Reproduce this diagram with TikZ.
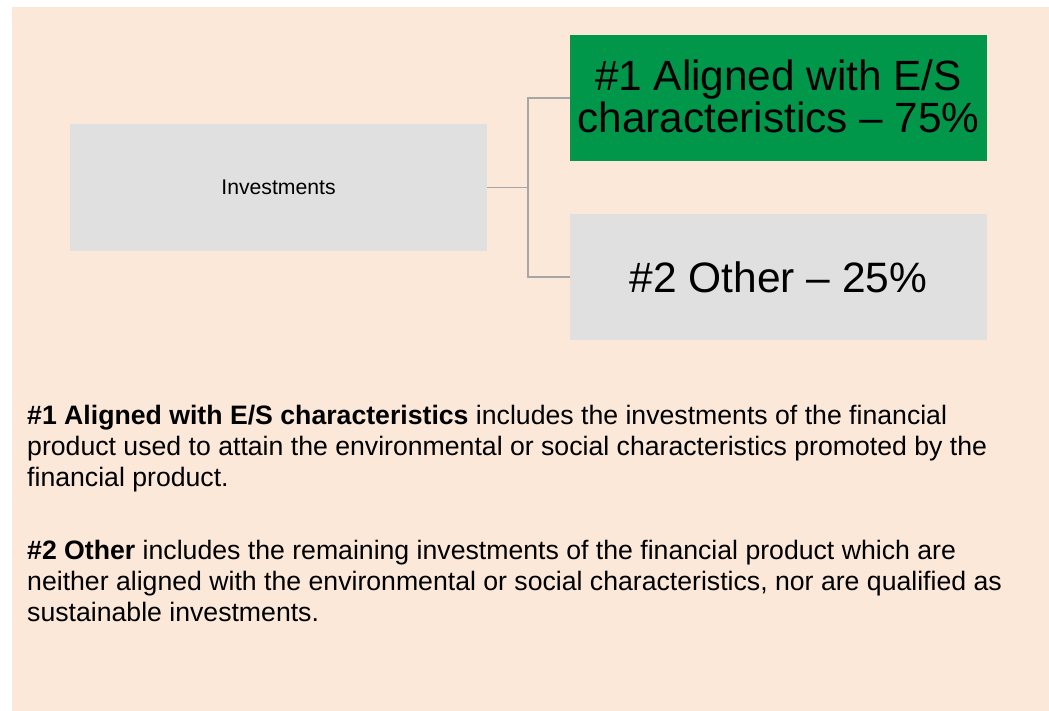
\documentclass[tikz,border=0pt]{standalone}
\usepackage{fontspec}
\setmainfont{Liberation Sans}
\definecolor{peach}{HTML}{FBE8D8}
\definecolor{boxgray}{HTML}{E0E0E0}
\definecolor{esgreen}{HTML}{00974A}
\definecolor{linegray}{HTML}{A6A6A6}
\begin{document}
\begin{tikzpicture}[x=1pt,y=-1pt,
  box/.style={minimum width=417pt, minimum height=126pt, inner sep=0pt, outer sep=0pt, anchor=north west, align=center},
  conn/.style={draw=linegray, line width=1.3pt},
  para/.style={anchor=base west, inner sep=0pt}]
\useasboundingbox (0,0) rectangle (1049,711);
\fill[peach] (12,7) rectangle (1049,711);
\node[box, fill=boxgray, minimum height=127pt, font=\fontsize{21.2}{25}\selectfont] (inv) at (70,124) {Investments};
\node[box, fill=esgreen, font=\fontsize{42.3}{42}\selectfont] (al) at (570,35) {\raisebox{4pt}{\#1 Aligned with E/S}\\\raisebox{4pt}{characteristics – 75\%}};
\node[box, fill=boxgray, font=\fontsize{42.5}{42}\selectfont] (oth) at (570,214) {\#2 Other – 25\%};
\draw[conn] (inv.east) -- ++(41,0) coordinate (j);
\draw[conn] (j) |- (al.west);
\draw[conn] (j) |- (oth.west);
\node[para] (p1) at (27,424) {\parbox[t]{1010pt}{\fontsize{26.65}{31}\selectfont
\textbf{\#1 Aligned with E/S characteristics} includes the investments of the financial\\
product used to attain the environmental or social characteristics promoted by the\\
financial product.}};
\node[para] (p2) at (27,559) {\parbox[t]{1010pt}{\fontsize{26.65}{31}\selectfont
\textbf{\#2 Other} includes the remaining investments of the financial product which are\\
neither aligned with the environmental or social characteristics, nor are qualified as\\
sustainable investments.}};
\end{tikzpicture}
\end{document}
